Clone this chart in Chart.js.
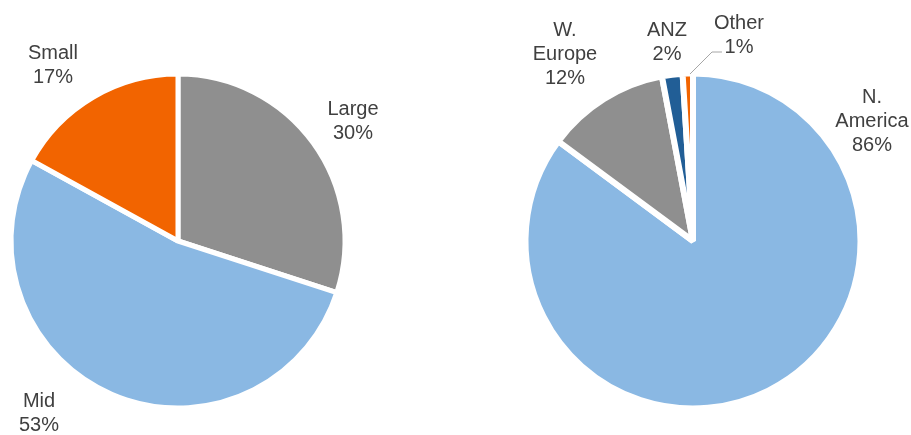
<!DOCTYPE html>
<html>
<head>
<meta charset="utf-8">
<script src="https://cdn.jsdelivr.net/npm/chart.js@4/dist/chart.umd.min.js"></script>
<style>
  html, body { margin: 0; padding: 0; background: #ffffff; }
  #wrap { position: relative; width: 911px; height: 435px; overflow: hidden; }
  canvas { position: absolute; top: 0; }
  #c1 { left: 0; }
  #c2 { left: 455px; }
</style>
</head>
<body>
<div id="wrap">
  <canvas id="c1" width="455" height="435"></canvas>
  <canvas id="c2" width="456" height="435"></canvas>
</div>
<script>
// ---- data ----
const sizeCategories = ["Large", "Mid", "Small"];
const sizeValues = [30, 53, 17];
const regionCategories = ["N. America", "W. Europe", "ANZ", "Other"];
const regionValues = [86, 12, 2, 1];

// ---- styles ----
const GRAY = "#8f8f8f", BLUE = "#8ab8e3", ORANGE = "#f26400", DARK = "#215e96";
const TEXT = "#404040";
const FONT = "20px 'Liberation Sans', Arial, sans-serif";
const LINE_H = 24;

function wrapName(name) {
  const i = name.indexOf(". ");
  return i >= 0 ? [name.slice(0, i + 1), name.slice(i + 2)] : [name];
}

const pieLabels = {
  id: "pieLabels",
  afterDatasetsDraw(chart, args, opts) {
    const ctx = chart.ctx;
    const meta = chart.getDatasetMeta(0);
    const ds = chart.data.datasets[0];
    ctx.save();
    ctx.font = FONT;
    ctx.fillStyle = TEXT;
    ctx.textAlign = "center";
    ctx.textBaseline = "middle";
    meta.data.forEach((arc, i) => {
      const p = opts.places[i];
      const cx = arc.x + p[0], cy = arc.y + p[1];
      const lines = wrapName(chart.data.labels[i]).concat([ds.data[i] + "%"]);
      const top = cy - (lines.length - 1) * LINE_H / 2;
      lines.forEach((t, k) => ctx.fillText(t, cx, top + k * LINE_H));
      if (opts.leaders && opts.leaders[i]) {
        const pts = opts.leaders[i];
        ctx.strokeStyle = "#a6a6a6";
        ctx.lineWidth = 1;
        ctx.beginPath();
        pts.forEach((q, k) => {
          const x = arc.x + q[0], y = arc.y + q[1];
          if (k === 0) ctx.moveTo(x, y); else ctx.lineTo(x, y);
        });
        ctx.stroke();
      }
    });
    ctx.restore();
  }
};

function makePie(id, labels, values, colors, bw, padding, places, leaders) {
  return new Chart(document.getElementById(id), {
    type: "pie",
    data: {
      labels: labels,
      datasets: [{
        data: values,
        backgroundColor: colors,
        borderColor: "#ffffff",
        borderWidth: bw,
        clip: false
      }]
    },
    options: {
      responsive: false,
      devicePixelRatio: 1,
      animation: false,
      events: [],
      radius: 164.5 + bw / 2,
      layout: { padding: padding },
      plugins: {
        legend: { display: false },
        tooltip: { enabled: false },
        pieLabels: { places: places, leaders: leaders }
      }
    },
    plugins: [pieLabels]
  });
}

makePie("c1", sizeCategories, sizeValues, [GRAY, BLUE, ORANGE], 5,
  { left: 0, right: 99, top: 47, bottom: 0 },
  [[175, -120], [-139, 172], [-125, -176]], null);

makePie("c2", regionCategories, regionValues, [BLUE, GRAY, DARK, ORANGE], 6,
  { left: 20, right: 0, top: 47, bottom: 0 },
  [[179, -120], [-128, -187], [-26, -199], [46, -206]],
  [null, null, null, [[-3, -167], [19, -189], [29, -189]]]);
</script>
</body>
</html>
